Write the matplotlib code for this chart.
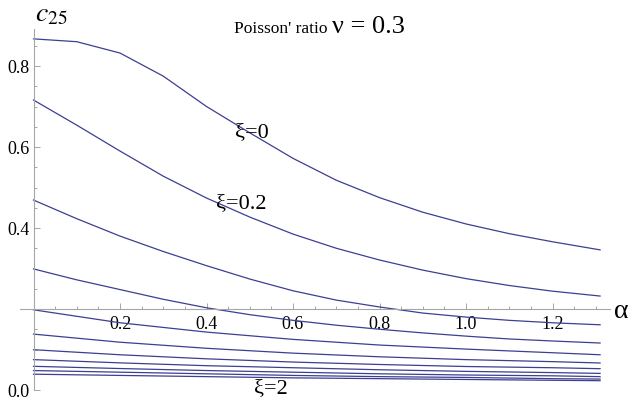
import matplotlib
matplotlib.use("Agg")
import matplotlib.pyplot as plt
import numpy as np
from matplotlib.ticker import FixedLocator, FixedFormatter

plt.rcParams['font.family'] = ['Liberation Serif', 'DejaVu Serif']
plt.rcParams['mathtext.fontset'] = 'stix'

# alpha grid (fine grid for the curved upper lines)
alpha_fine = [0.0, 0.1, 0.2, 0.3, 0.4, 0.5, 0.6, 0.7, 0.8, 0.9, 1.0, 1.1, 1.2, 1.31]
alpha_coarse = [0.0, 0.2, 0.4, 0.6, 0.8, 1.0, 1.2, 1.31]

c25_xi_0 = [0.867, 0.860, 0.832, 0.775, 0.700, 0.635, 0.572, 0.518, 0.475, 0.439, 0.410, 0.386, 0.366, 0.346]
c25_xi_02 = [0.716, 0.654, 0.590, 0.528, 0.474, 0.427, 0.385, 0.350, 0.321, 0.296, 0.275, 0.258, 0.244, 0.232]
c25_xi_04 = [0.469, 0.423, 0.380, 0.342, 0.307, 0.274, 0.245, 0.222, 0.205, 0.190, 0.180, 0.172, 0.166, 0.161]
c25_xi_06 = [0.299, 0.272, 0.248, 0.224, 0.203, 0.186, 0.172, 0.160, 0.150, 0.141, 0.133, 0.126, 0.121, 0.116]

c25_xi_08 = [0.198, 0.166, 0.143, 0.125, 0.111, 0.101, 0.092, 0.087]
c25_xi_10 = [0.138, 0.118, 0.103, 0.091, 0.082, 0.075, 0.070, 0.0667]
c25_xi_12 = [0.0995, 0.087, 0.077, 0.069, 0.063, 0.058, 0.055, 0.0526]
c25_xi_14 = [0.075, 0.067, 0.060, 0.055, 0.050, 0.046, 0.043, 0.041]
c25_xi_16 = [0.0585, 0.053, 0.048, 0.044, 0.040, 0.037, 0.035, 0.033]
c25_xi_18 = [0.048, 0.044, 0.040, 0.036, 0.033, 0.031, 0.028, 0.027]
c25_xi_20 = [0.039, 0.036, 0.033, 0.030, 0.028, 0.026, 0.024, 0.023]

upper = [c25_xi_0, c25_xi_02, c25_xi_04, c25_xi_06]
lower = [c25_xi_08, c25_xi_10, c25_xi_12, c25_xi_14, c25_xi_16, c25_xi_18, c25_xi_20]

x_major = [0.2, 0.4, 0.6, 0.8, 1.0, 1.2]
y_major = [0.0, 0.4, 0.6, 0.8]

lc = '#3c3f92'
axc = '#a6a6a6'

fig = plt.figure(figsize=(6.31, 4.06), dpi=100)
ax = fig.add_axes([0, 0, 1, 1])

for yv in upper:
    ax.plot(alpha_fine, yv, color=lc, lw=0.9)
for yv in lower:
    ax.plot(alpha_coarse, yv, color=lc, lw=0.9)

ax.set_xlim(-33.5 / 432.5, (631 - 33.5) / 432.5)
ax.set_ylim((391 - 406) / 405, 391 / 405)

# Mathematica style axes crossing at (0, 0.2)
for s in ['top', 'right']:
    ax.spines[s].set_visible(False)
ax.spines['left'].set_position(('data', 0))
ax.spines['bottom'].set_position(('data', 0.2))
ax.spines['left'].set_bounds(0.0, 0.892)
ax.spines['bottom'].set_bounds(-0.031, 1.333)
for s in ['left', 'bottom']:
    ax.spines[s].set_color(axc)
    ax.spines[s].set_linewidth(0.8)

x_minor = [round(0.05 * k, 2) for k in range(1, 27) if k % 4 != 0]
y_minor = [round(0.05 * k, 2) for k in range(1, 18) if k % 4 != 0]
ax.xaxis.set_major_locator(FixedLocator(x_major))
ax.xaxis.set_major_formatter(FixedFormatter([f"{v:.1f}" for v in x_major]))
ax.xaxis.set_minor_locator(FixedLocator(x_minor))
ax.yaxis.set_major_locator(FixedLocator(y_major))
ax.yaxis.set_major_formatter(FixedFormatter([f"{v:.1f}" for v in y_major]))
ax.yaxis.set_minor_locator(FixedLocator(y_minor))
ax.tick_params(which='both', direction='in', color=axc, width=0.7, labelsize=13, labelcolor='black')
ax.tick_params(which='major', length=4)
ax.tick_params(which='minor', length=2.5)
ax.tick_params(axis='x', pad=4)
ax.tick_params(axis='y', pad=3)

# curve labels
ax.text(0.505, 0.637, "ξ=0", fontsize=16, ha='center', va='center')
ax.text(0.480, 0.462, "ξ=0.2", fontsize=16, ha='center', va='center')
ax.text(0.549, 0.007, "ξ=2", fontsize=16, ha='center', va='center')

# axis labels and title
fig.text(35 / 631, 1 - 21 / 406, r"$c_{25}$", fontsize=20, ha='left', va='baseline')
fig.text(614 / 631, 1 - 318 / 406, "α", fontsize=20, ha='left', va='baseline')
fig.text(328 / 631, 1 - 33 / 406, "Poisson' ratio", fontsize=12.5, ha='right', va='baseline')
fig.text(332 / 631, 1 - 33 / 406, "ν = 0.3", fontsize=19, ha='left', va='baseline')

fig.savefig("out.png", dpi=100)
